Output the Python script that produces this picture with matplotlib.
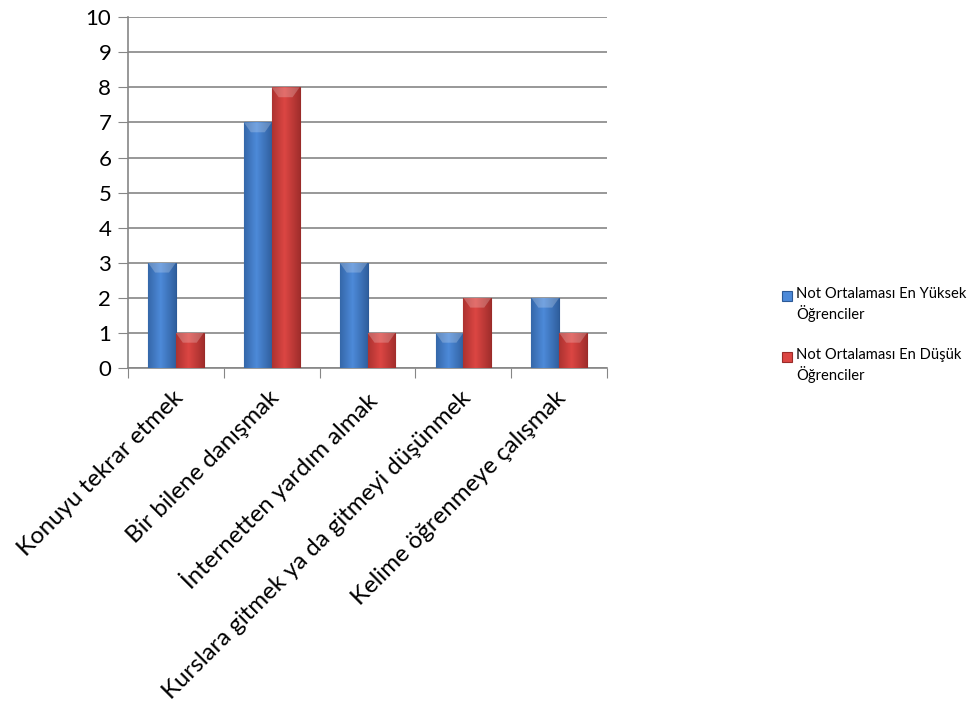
import numpy as np
import matplotlib
matplotlib.use("Agg")
import matplotlib.pyplot as plt
from matplotlib.patches import Rectangle

plt.rcParams["font.family"] = ["Lato", "DejaVu Sans"]

categories = ["Konuyu tekrar etmek", "Bir bilene danışmak", "İnternetten yardım almak",
              "Kurslara gitmek ya da gitmeyi düşünmek", "Kelime öğrenmeye çalışmak"]
yuksek = [3, 7, 3, 1, 2]
dusuk = [1, 8, 1, 2, 1]
series_names = ["Not Ortalaması En Yüksek\nÖğrenciler", "Not Ortalaması En Düşük\nÖğrenciler"]

blue = ("#2c5a97", "#4d8ad9")
red = ("#9a2b29", "#dc4643")

fig = plt.figure(figsize=(9.68, 7.2), dpi=100)
ax = fig.add_axes([0.1322, 0.489, 0.495, 0.487])

x = np.arange(len(categories))
w = 0.29


def shaded_bars(xs, vals, cols):
    bars = ax.bar(xs, vals, w, color=cols[1], edgecolor=cols[0], linewidth=0.8, zorder=3)
    # horizontal shading across each bar: dark edges, light middle
    t = np.linspace(0, 1, 64)
    prof = np.clip(1 - np.abs(t - 0.45) * 1.6, 0, 1)
    c0 = np.array(matplotlib.colors.to_rgb(cols[0]))
    c1 = np.array(matplotlib.colors.to_rgb(cols[1]))
    img = (c0[None, :] + (c1 - c0)[None, :] * prof[:, None])[None, :, :]
    for b in bars:
        x0, y0, bw = b.get_x(), b.get_y(), b.get_width()
        im = ax.imshow(img, extent=[x0, x0 + bw, y0, y0 + b.get_height()],
                       aspect="auto", zorder=3, interpolation="bilinear")
        im.set_clip_path(b)
        # lighter bevel on top
        h = min(0.28, b.get_height() * 0.3)
        top = y0 + b.get_height()
        ax.fill([x0, x0 + bw, x0 + bw * 0.75, x0 + bw * 0.25],
                [top, top, top - h, top - h], color="white", alpha=0.22, lw=0, zorder=4)
    return bars


shaded_bars(x - w / 2, yuksek, blue)
shaded_bars(x + w / 2, dusuk, red)

ax.set_xlim(-0.5, len(categories) - 0.5)
ax.set_ylim(0, 10)
ax.set_yticks(range(0, 11))
ax.tick_params(axis="y", length=7, color="#868686", labelsize=16, pad=5)
ax.grid(axis="y", color="#868686", lw=1.2, zorder=0)
ax.set_axisbelow(True)

ax.set_xticks(np.arange(len(categories) + 1) - 0.5)
ax.set_xticklabels([])
ax.tick_params(axis="x", length=7, color="#868686")
for xi, lab in zip(x, categories):
    ax.text(xi - 0.04, -0.55, lab, rotation=45, ha="right", va="top",
            rotation_mode="anchor", fontsize=17.3)

for s in ("top", "right"):
    ax.spines[s].set_visible(False)
for s in ("left", "bottom"):
    ax.spines[s].set_color("#868686")
    ax.spines[s].set_linewidth(1.2)

# legend: square beside the first line of each two-line entry
for i, (name, cols) in enumerate(zip(series_names, (blue, red))):
    ytop = 296 + i * 61
    fig.patches.append(Rectangle((782 / 968, 1 - (ytop + 5) / 720), 10 / 968, 10 / 720,
                                 transform=fig.transFigure, facecolor=cols[1],
                                 edgecolor=cols[0], lw=0.8))
    fig.text(796 / 968, 1 - (ytop - 9) / 720, name, ha="left", va="top",
             fontsize=10.6, linespacing=1.25)

fig.savefig("out.png", dpi=100)
